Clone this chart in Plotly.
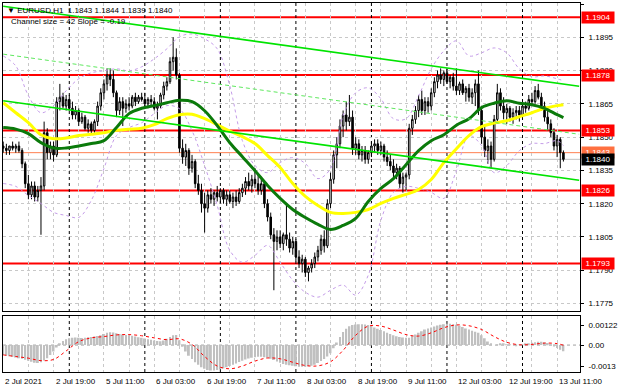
import plotly.graph_objects as go

# ---------------- data (prices in 1/10000 units above 1.0000) ----------------
bars = list(range(179))

open_pips = [
    1846, 1845, 1844, 1846, 1845, 1846, 1844, 1838, 1829, 1824,
    1828, 1823, 1826, 1828, 1852, 1843, 1846, 1842, 1866, 1868,
    1864, 1867, 1863, 1860, 1862, 1857, 1859, 1854, 1856, 1853,
    1857, 1864, 1870, 1874, 1878, 1876, 1870, 1862, 1866, 1863,
    1865, 1864, 1868, 1866, 1868, 1867, 1865, 1867, 1866, 1863,
    1864, 1869, 1873, 1875, 1884, 1886, 1878, 1845, 1841, 1844,
    1836, 1839, 1829, 1826, 1820, 1818, 1824, 1822, 1825, 1823,
    1826, 1822, 1824, 1821, 1823, 1821, 1825, 1827, 1830, 1828,
    1831, 1829, 1826, 1829, 1820, 1814, 1806, 1803, 1805, 1802,
    1806, 1804, 1800, 1803, 1796, 1793, 1795, 1789, 1791, 1793,
    1796, 1799, 1804, 1801, 1820, 1831, 1842, 1847, 1855, 1860,
    1857, 1859, 1845, 1847, 1842, 1844, 1840, 1843, 1846, 1847,
    1844, 1846, 1841, 1839, 1837, 1834, 1836, 1829, 1832, 1833,
    1854, 1858, 1862, 1867, 1862, 1866, 1864, 1870, 1875, 1878,
    1876, 1879, 1875, 1877, 1873, 1871, 1874, 1870, 1872, 1868,
    1870, 1874, 1862, 1850, 1844, 1846, 1840, 1858, 1870, 1864,
    1861, 1863, 1859, 1861, 1862, 1860, 1864, 1863, 1867, 1866,
    1871, 1868, 1864, 1859, 1856, 1852, 1846, 1849, 1843,
]
high_pips = [
    1848, 1847, 1846, 1848, 1847, 1848, 1845, 1839, 1833, 1830,
    1830, 1828, 1832, 1857, 1854, 1848, 1848, 1868, 1874, 1870,
    1869, 1869, 1866, 1864, 1863, 1861, 1860, 1858, 1857, 1858,
    1866, 1872, 1876, 1881, 1881, 1880, 1871, 1868, 1868, 1867,
    1868, 1869, 1870, 1869, 1870, 1870, 1868, 1869, 1868, 1866,
    1870, 1875, 1877, 1886, 1895, 1890, 1879, 1849, 1847, 1845,
    1842, 1840, 1833, 1829, 1825, 1826, 1827, 1826, 1828, 1827,
    1827, 1826, 1826, 1825, 1826, 1827, 1829, 1832, 1834, 1833,
    1836, 1833, 1831, 1830, 1822, 1816, 1809, 1808, 1808, 1807,
    1820, 1807, 1805, 1804, 1799, 1797, 1796, 1792, 1795, 1798,
    1801, 1806, 1808, 1822, 1834, 1844, 1850, 1858, 1862, 1866,
    1869, 1862, 1850, 1849, 1846, 1846, 1844, 1848, 1849, 1849,
    1848, 1847, 1844, 1842, 1840, 1838, 1837, 1834, 1834, 1856,
    1860, 1864, 1869, 1871, 1868, 1868, 1872, 1877, 1880, 1881,
    1880, 1881, 1878, 1879, 1881, 1875, 1876, 1873, 1874, 1872,
    1876, 1880, 1864, 1855, 1849, 1848, 1860, 1874, 1872, 1868,
    1865, 1864, 1863, 1864, 1864, 1865, 1866, 1869, 1870, 1873,
    1874, 1870, 1866, 1862, 1858, 1854, 1851, 1850, 1844,
]
low_pips = [
    1843, 1842, 1842, 1844, 1843, 1843, 1836, 1827, 1822, 1822,
    1821, 1821, 1806, 1826, 1840, 1840, 1839, 1841, 1862, 1863,
    1862, 1862, 1858, 1858, 1855, 1856, 1853, 1852, 1851, 1852,
    1855, 1862, 1867, 1871, 1873, 1868, 1859, 1860, 1855, 1861,
    1862, 1863, 1864, 1865, 1866, 1864, 1863, 1864, 1862, 1858,
    1863, 1867, 1871, 1874, 1880, 1876, 1843, 1838, 1837, 1833,
    1834, 1827, 1824, 1816, 1807, 1816, 1820, 1819, 1821, 1820,
    1820, 1819, 1820, 1818, 1819, 1820, 1823, 1824, 1826, 1825,
    1827, 1824, 1824, 1818, 1812, 1804, 1781, 1799, 1800, 1799,
    1801, 1798, 1797, 1794, 1791, 1789, 1787, 1785, 1789, 1791,
    1794, 1797, 1798, 1800, 1818, 1829, 1836, 1845, 1850, 1853,
    1855, 1842, 1842, 1840, 1839, 1838, 1838, 1841, 1843, 1842,
    1842, 1839, 1837, 1835, 1832, 1831, 1827, 1825, 1826, 1831,
    1851, 1856, 1859, 1860, 1860, 1861, 1862, 1868, 1872, 1874,
    1873, 1874, 1872, 1871, 1869, 1869, 1869, 1866, 1866, 1865,
    1864, 1860, 1847, 1841, 1838, 1836, 1839, 1856, 1862, 1858,
    1856, 1857, 1856, 1858, 1857, 1859, 1861, 1862, 1864, 1865,
    1867, 1862, 1857, 1853, 1850, 1844, 1841, 1836, 1839,
]
close_pips = [
    1845, 1844, 1846, 1845, 1846, 1844, 1838, 1829, 1824, 1828,
    1823, 1826, 1828, 1852, 1843, 1846, 1842, 1866, 1868, 1864,
    1867, 1863, 1860, 1862, 1857, 1859, 1854, 1856, 1853, 1857,
    1864, 1870, 1874, 1878, 1876, 1870, 1862, 1866, 1863, 1865,
    1864, 1868, 1866, 1868, 1867, 1865, 1867, 1866, 1863, 1864,
    1869, 1873, 1875, 1884, 1886, 1878, 1845, 1841, 1844, 1836,
    1839, 1829, 1826, 1820, 1818, 1824, 1822, 1825, 1823, 1826,
    1822, 1824, 1821, 1823, 1821, 1825, 1827, 1830, 1828, 1831,
    1829, 1826, 1829, 1820, 1814, 1806, 1803, 1805, 1802, 1806,
    1804, 1800, 1803, 1796, 1793, 1795, 1789, 1791, 1793, 1796,
    1799, 1804, 1801, 1820, 1831, 1842, 1847, 1855, 1860, 1857,
    1859, 1845, 1847, 1842, 1844, 1840, 1843, 1846, 1847, 1844,
    1846, 1841, 1839, 1837, 1834, 1836, 1829, 1832, 1833, 1854,
    1858, 1862, 1867, 1862, 1866, 1864, 1870, 1875, 1878, 1876,
    1879, 1875, 1877, 1873, 1871, 1874, 1870, 1872, 1868, 1870,
    1874, 1862, 1850, 1844, 1846, 1840, 1858, 1870, 1864, 1861,
    1863, 1859, 1861, 1862, 1860, 1864, 1863, 1867, 1866, 1871,
    1868, 1864, 1859, 1856, 1852, 1846, 1849, 1843, 1840,
]

# indicator lines read at every 4th bar (plus the last bar)
ind_bars = [0, 4, 8, 12, 16, 20, 24, 28, 32, 36, 40, 44, 48, 52, 56, 60,
            64, 68, 72, 76, 80, 84, 88, 92, 96, 100, 104, 108, 112, 116,
            120, 124, 128, 132, 136, 140, 144, 148, 152, 156, 160, 164,
            168, 172, 176, 178]
ma_yellow_pips = [
    1865.5, 1861.0, 1856.5, 1851.1, 1849.3, 1849.6, 1850.7, 1851.3, 1852.0, 1853.1,
    1853.6, 1854.0, 1855.6, 1858.3, 1860.1, 1860.3, 1858.3, 1855.6, 1852.7, 1850.2,
    1847.1, 1841.7, 1836.3, 1829.1, 1823.3, 1819.2, 1816.1, 1815.6, 1816.1, 1817.4,
    1820.1, 1822.4, 1824.2, 1826.4, 1830.9, 1838.5, 1844.8, 1850.7, 1854.7, 1856.3,
    1857.4, 1859.2, 1861.0, 1863.0, 1864.2, 1864.6,
]
ma_green_pips = [
    1854.3, 1853.6, 1851.6, 1847.5, 1845.1, 1845.1, 1846.0, 1847.1, 1848.4, 1854.3,
    1860.6, 1863.0, 1864.2, 1865.5, 1866.6, 1866.0, 1861.9, 1855.2, 1847.5, 1841.2,
    1834.9, 1828.2, 1822.4, 1817.4, 1813.8, 1810.7, 1808.4, 1810.2, 1813.4, 1821.0,
    1826.9, 1831.3, 1837.6, 1843.9, 1848.4, 1851.1, 1855.4, 1858.3, 1863.3, 1865.3,
    1866.4, 1865.3, 1864.6, 1863.0, 1860.1, 1858.8,
]
bb_upper_pips = [
    1886.6, 1882.1, 1868.7, 1861.0, 1864.2, 1870.9, 1876.3, 1879.0, 1879.9, 1880.8,
    1879.9, 1881.7, 1885.3, 1889.8, 1895.2, 1896.5, 1894.3, 1889.8, 1873.1, 1848.4,
    1837.2, 1834.0, 1838.5, 1840.8, 1838.1, 1831.3, 1835.8, 1859.7, 1870.0, 1872.2,
    1867.3, 1858.3, 1858.3, 1868.7, 1880.8, 1888.9, 1893.4, 1886.6, 1888.0, 1890.2,
    1888.0, 1880.8, 1877.2, 1877.6, 1876.3, 1875.4,
]
bb_lower_pips = [
    1829.1, 1827.8, 1823.7, 1820.1, 1816.1, 1814.7, 1813.8, 1821.5, 1835.8, 1850.7,
    1854.3, 1856.5, 1860.6, 1864.2, 1862.8, 1852.9, 1837.2, 1819.2, 1799.0, 1793.6,
    1796.7, 1801.2, 1793.6, 1785.5, 1780.1, 1777.9, 1781.0, 1783.3, 1778.8, 1787.8,
    1812.5, 1825.1, 1827.8, 1826.9, 1825.1, 1822.4, 1834.9, 1850.7, 1846.2, 1834.0,
    1837.2, 1843.9, 1847.1, 1847.1, 1848.4, 1846.2,
]

# MACD (units of 0.00001)
macd_main = [
    -60, -64, -68, -72, -76, -80, -84, -90, -96, -102, -108, -110,
    -105, -95, -80, -60, -40, -15,
    10, 25, 35, 42,
    45, 46, 44, 43, 45, 48, 50, 52, 55, 60,
    68, 75, 78, 77, 72, 68,
    65, 62, 60, 57, 52, 48, 44, 40,
    36, 32, 28, 25, 24, 28,
    38, 50, 60, 62,
    30, -10, -40, -65, -85, -105, -120, -135,
    -145, -152, -155, -155, -152, -148, -142, -135, -128, -120,
    -112, -104, -96, -88, -82, -78, -75, -72, -72, -74, -78, -84,
    -92, -100, -108, -115, -120, -124, -127, -130, -132, -133, -132, -130, -126, -120,
    -110, -98, -85, -70, -50, -20,
    15, 50, 80, 100, 115, 122,
    126, 128, 128, 126, 122, 116,
    108, 100, 92, 84, 76, 68, 60,
    54, 50, 46, 44, 45,
    55, 65, 75, 85, 95, 102, 108,
    114, 120, 124, 128, 130, 130, 128, 124, 118,
    110, 102, 95, 88, 82, 75, 60, 42,
    22, 8, 0,
    4, 8, 6, 4, 2, 0, -2, 0, 2,
    6, 10, 14, 18, 20, 20, 18, 12, 4,
    -8, -18, -28, -38,
]
macd_signal = [
    -60, -70, -80, -95, -88, -36, 21, 44, 52, 62, 64, 57, 44, 33, 38, 4,
    -70, -128, -145, -128, -98, -79, -84, -105, -125, -127, -102, -32, 60, 116,
    116, 92, 64, 55, 75, 106, 123, 118, 95, 52, 17, 2, 4, 12, 9, -1,
]

levels = [1.1904, 1.1878, 1.1853, 1.1826, 1.1793]
ask_level = 1.1843
bid_level = 1.1840

channel_bars = [0, 183]
channel_upper = [1.19090, 1.18729]
channel_mid = [1.18874, 1.18513]
channel_lower = [1.18664, 1.18306]

price_ticks = [1.1775, 1.1790, 1.1805, 1.1820, 1.1835, 1.1850, 1.1865, 1.1880, 1.1895, 1.1910]
macd_ticks = [0.00122, 0.0, -0.0013]
macd_tick_text = ["0.00122", "0.00", "-0.0013"]

date_bars = [0, 16, 32, 48, 64, 80, 96, 112, 128, 144, 160, 176]
date_labels = ["2 Jul 2021", "2 Jul 19:00", "5 Jul 11:00", "6 Jul 03:00", "6 Jul 19:00",
               "7 Jul 11:00", "8 Jul 03:00", "8 Jul 19:00", "9 Jul 11:00", "12 Jul 03:00",
               "12 Jul 19:00", "13 Jul 11:00"]
grid_bars = list(range(0, 184, 8))
separator_bars = [21, 45, 69, 93, 117, 141, 165]


def to_price(v):
    return 1 + v / 10000.0


FONT = "Liberation Sans, Arial, DejaVu Sans"

fig = go.Figure()

# Bollinger style envelopes (dotted violet)
for arr in (bb_upper_pips, bb_lower_pips):
    fig.add_trace(go.Scatter(x=ind_bars, y=[to_price(v) for v in arr], mode="lines",
                             line=dict(color="#c49ce8", width=1, dash="dot", shape="spline"),
                             xaxis="x", yaxis="y", hoverinfo="skip"))

# candles
fig.add_trace(go.Candlestick(
    x=bars,
    open=[to_price(v) for v in open_pips],
    high=[to_price(v) for v in high_pips],
    low=[to_price(v) for v in low_pips],
    close=[to_price(v) for v in close_pips],
    increasing=dict(line=dict(color="#000000", width=1), fillcolor="#ffffff"),
    decreasing=dict(line=dict(color="#000000", width=1), fillcolor="#000000"),
    xaxis="x", yaxis="y", hoverinfo="skip"))

# moving averages
fig.add_trace(go.Scatter(x=ind_bars, y=[to_price(v) for v in ma_yellow_pips], mode="lines",
                         line=dict(color="#ffff00", width=3, shape="spline"),
                         xaxis="x", yaxis="y", hoverinfo="skip"))
fig.add_trace(go.Scatter(x=ind_bars, y=[to_price(v) for v in ma_green_pips], mode="lines",
                         line=dict(color="#0b7a0b", width=3, shape="spline"),
                         xaxis="x", yaxis="y", hoverinfo="skip"))

# regression channel
fig.add_trace(go.Scatter(x=channel_bars, y=channel_upper, mode="lines",
                         line=dict(color="#00e400", width=1.6), xaxis="x", yaxis="y", hoverinfo="skip"))
fig.add_trace(go.Scatter(x=channel_bars, y=channel_mid, mode="lines",
                         line=dict(color="#5ee85e", width=1, dash="4px,3px"), xaxis="x", yaxis="y",
                         hoverinfo="skip"))
fig.add_trace(go.Scatter(x=channel_bars, y=channel_lower, mode="lines",
                         line=dict(color="#00e400", width=1.6), xaxis="x", yaxis="y", hoverinfo="skip"))

# MACD
fig.add_trace(go.Bar(x=bars, y=[v * 1e-5 for v in macd_main], width=0.6,
                     marker=dict(color="#c0c0c0", line=dict(width=0)),
                     xaxis="x2", yaxis="y2", hoverinfo="skip"))
fig.add_trace(go.Scatter(x=ind_bars, y=[v * 1e-5 for v in macd_signal], mode="lines",
                         line=dict(color="#ff0000", width=1, dash="dot", shape="spline"),
                         xaxis="x2", yaxis="y2", hoverinfo="skip"))

shapes = []
for lv in levels:
    shapes.append(dict(type="line", xref="paper", x0=0, x1=1, yref="y", y0=lv, y1=lv,
                       line=dict(color="#ff0000", width=2), layer="below"))
shapes.append(dict(type="line", xref="paper", x0=0, x1=1, yref="y", y0=ask_level, y1=ask_level,
                   line=dict(color="#ff7f50", width=1), layer="below"))
shapes.append(dict(type="line", xref="paper", x0=0, x1=1, yref="y", y0=bid_level, y1=bid_level,
                   line=dict(color="#c0c0c0", width=1), layer="below"))
for b in separator_bars:
    shapes.append(dict(type="line", xref="x", x0=b, x1=b, yref="paper", y0=0, y1=1,
                       line=dict(color="#000000", width=1, dash="3px,3px"), layer="below"))
shapes.append(dict(type="line", xref="paper", x0=0, x1=1, yref="y2", y0=0, y1=0,
                   line=dict(color="#a0a0a0", width=1, dash="dot"), layer="below"))

annotations = []
for lv in levels:
    annotations.append(dict(xref="paper", x=1, yref="y", y=lv, xanchor="left", yanchor="middle",
                            xshift=1, text=f"{lv:.4f}", showarrow=False, bgcolor="#ff0000",
                            font=dict(family=FONT, size=8, color="#ffffff"), width=30, height=9,
                            borderpad=1))
annotations.append(dict(xref="paper", x=1, yref="y", y=ask_level, xanchor="left", yanchor="middle",
                        xshift=1, text=f"{ask_level:.4f}", showarrow=False, bgcolor="#ff7040",
                        font=dict(family=FONT, size=8, color="#ffffff"), width=30, height=9,
                        borderpad=1))
annotations.append(dict(xref="paper", x=1, yref="y", y=bid_level, xanchor="left", yanchor="middle",
                        xshift=1, text=f"{bid_level:.4f}", showarrow=False, bgcolor="#000000",
                        font=dict(family=FONT, size=8, color="#ffffff"), width=30, height=9,
                        borderpad=1))
for b, t in zip(date_bars, date_labels):
    annotations.append(dict(xref="x", x=b, yref="paper", y=-0.008, xanchor="left", yanchor="top",
                            xshift=0, text=t, showarrow=False,
                            font=dict(family=FONT, size=8, color="#000000")))
annotations.append(dict(xref="paper", x=0, yref="paper", y=1, xanchor="left", yanchor="top",
                        xshift=2, yshift=-1, text="\u25bc EURUSD,H1  1.1843 1.1844 1.1839 1.1840",
                        showarrow=False, font=dict(family=FONT, size=8, color="#000000")))
annotations.append(dict(xref="paper", x=0, yref="paper", y=1, xanchor="left", yanchor="top",
                        xshift=6, yshift=-12, text="Channel size = 42 Slope = -0.19",
                        showarrow=False, font=dict(family=FONT, size=8, color="#000000")))
annotations.append(dict(xref="paper", x=0, yref="y2", y=0.00177, xanchor="left", yanchor="top",
                        xshift=2, yshift=-2, text="MACD(12,26,9) -0.00038 -0.00001",
                        showarrow=False, font=dict(family=FONT, size=8, color="#000000")))

H_PLOT = 370.0
main_bottom = (372 - 311) / H_PLOT
macd_top = (372 - 316) / H_PLOT

axis_common = dict(showline=True, mirror=True, linecolor="#000000", linewidth=1, zeroline=False)

fig.update_layout(
    width=620, height=388, autosize=False,
    margin=dict(l=2, r=35, t=2, b=16),
    paper_bgcolor="#ffffff", plot_bgcolor="#ffffff",
    showlegend=False, hovermode=False,
    shapes=shapes, annotations=annotations,
    xaxis=dict(domain=[0, 1], anchor="y", range=[-0.063, 183.27], tickvals=grid_bars,
               showticklabels=False, ticks="", showgrid=True, gridcolor="#c8c8c8",
               griddash="dot", gridwidth=1, rangeslider=dict(visible=False), **axis_common),
    yaxis=dict(domain=[main_bottom, 1], anchor="x", side="right",
               range=[1.177157, 1.191045], tickvals=price_ticks,
               ticktext=[f"{v:.4f}" for v in price_ticks], ticks="outside", ticklen=3,
               tickcolor="#000000", ticklabelstandoff=3,
               tickfont=dict(family=FONT, size=8, color="#000000"),
               showgrid=True, gridcolor="#c8c8c8", griddash="dot", gridwidth=1, **axis_common),
    xaxis2=dict(domain=[0, 1], anchor="y2", matches="x", range=[-0.063, 183.27], tickvals=grid_bars,
                showticklabels=False, ticks="", showgrid=True, gridcolor="#c8c8c8",
                griddash="dot", gridwidth=1, **axis_common),
    yaxis2=dict(domain=[0, macd_top], anchor="x2", side="right",
                range=[-0.001646, 0.001768], tickvals=macd_ticks, ticktext=macd_tick_text,
                ticks="outside", ticklen=3, tickcolor="#000000", ticklabelstandoff=3,
                tickfont=dict(family=FONT, size=8, color="#000000"),
                showgrid=False, **axis_common),
)

fig.write_html("out.html", config={"displayModeBar": False},
               post_script="document.body.style.margin='0';document.body.style.overflow='hidden';")
